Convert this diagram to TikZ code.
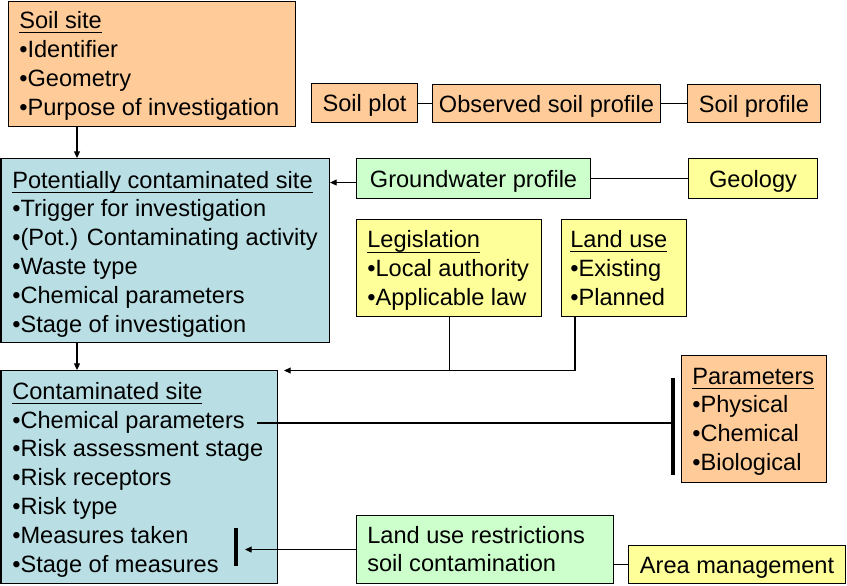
\documentclass[tikz,border=0pt]{standalone}
\usepackage{fontspec}
\setmainfont{Liberation Sans}
\usetikzlibrary{arrows.meta,calc}
\definecolor{peach}{HTML}{FFCC99}
\definecolor{lblue}{HTML}{B9DFE4}
\definecolor{lgreen}{HTML}{CCFFCC}
\definecolor{lyellow}{HTML}{FFFF99}
\newsavebox\ulbox
\newcommand\myul[1]{\sbox\ulbox{#1}\rlap{\rule[-3.6pt]{\wd\ulbox}{0.8pt}}\usebox\ulbox}
\tikzset{
  fnt/.style={font=\fontsize{17.7pt}{21.6pt}\selectfont},
  box/.style={draw=black, line width=0.8pt, anchor=north west, inner sep=0pt, fnt},
  sbox/.style={box, align=center, text height=16.3pt, text depth=3.5pt},
  txt/.style={anchor=west, align=left, inner sep=0pt, fnt},
  conn/.style={draw=black, line width=0.8pt},
  arr/.style={conn, -{Triangle[length=5pt,width=4.5pt]}},
  bar/.style={draw=black, line width=2.4pt}
}
\begin{document}
\begin{tikzpicture}[x=0.75pt,y=-0.75pt]
\useasboundingbox (0,0) rectangle (847,586);
% boxes
\node[box, fill=peach, minimum width=215.25pt, minimum height=94.125pt] (ss) at (8,0.5) {};
\node[txt] (sst) at ($(ss.west)+(11,2)$)
  {\myul{Soil site}\\•Identifier\\•Geometry\\•Purpose of investigation};
\node[sbox, fill=peach, minimum width=79.5pt, minimum height=29.25pt] (sp) at (311,83) {Soil plot};
\node[sbox, fill=peach, minimum width=171pt, minimum height=28.5pt] (osp) at (432,84) {Observed soil profile};
\node[sbox, fill=peach, minimum width=99.75pt, minimum height=28.5pt] (spr) at (687,84) {Soil profile};
\node[box, fill=lblue, minimum width=246.375pt, minimum height=138pt] (pcs) at (0.5,158) {};
\node[txt] (pcst) at ($(pcs.west)+(11.5,3.5)$)
  {\myul{Potentially contaminated site}\\•Trigger for investigation\\•(Pot.) Contaminating activity\\•Waste type\\•Chemical parameters\\•Stage of investigation};
\node[sbox, fill=lgreen, minimum width=175.5pt, minimum height=30pt] (gw) at (356,158) {Groundwater profile};
\node[sbox, fill=lyellow, minimum width=96.75pt, minimum height=30pt] (geo) at (688,158) {Geology};
\node[box, fill=lyellow, minimum width=138.75pt, minimum height=72.75pt] (leg) at (356,219) {};
\node[txt] (legt) at ($(leg.west)+(11,2.5)$)
  {\myul{Legislation}\\•Local authority\\•Applicable law};
\node[box, fill=lyellow, minimum width=93.75pt, minimum height=72.75pt] (lu) at (561,219) {};
\node[txt] (lut) at ($(lu.west)+(9,0)$)
  {\myul{Land use}\\•Existing\\•Planned};
\node[box, fill=lblue, minimum width=207.375pt, minimum height=159.75pt] (cs) at (0.5,370) {};
\node[txt] (cst) at ($(cs.west)+(11.5,2.5)$)
  {\myul{Contaminated site}\\•Chemical parameters\\•Risk assessment stage\\•Risk receptors\\•Risk type\\•Measures taken\\•Stage of measures};
\node[box, fill=peach, minimum width=108.75pt, minimum height=95.25pt] (par) at (681,355) {};
\node[txt] (part) at ($(par.west)+(11,2.5)$)
  {\myul{Parameters}\\•Physical\\•Chemical\\•Biological};
\node[box, fill=lgreen, minimum width=192.75pt, minimum height=51pt] (lur) at (356,515) {};
\node[txt] (lurt) at ($(lur.west)+(11,-0.5)$)
  {Land use restrictions\\soil contamination};
\node[sbox, fill=lyellow, minimum width=162.75pt, minimum height=28.5pt] (am) at (628,545) {Area management};
% connectors top row
\draw[conn] ($(sp.west)+(0,-4.5)$) -- ($(sp.west)+(0,-4.5)$ -| ss.east);
\draw[conn] (sp.east) -- (sp.east -| osp.west);
\draw[conn] (osp.east) -- (osp.east -| spr.west);
% soil site -> pcs
\coordinate (a1) at ($(ss.south west)+(69,0)$);
\draw[arr] (a1) -- (a1 |- pcs.north);
% groundwater -> pcs
\coordinate (g1) at ($(gw.west)+(0,4)$);
\draw[arr] (g1) -- (g1 -| pcs.east);
\draw[conn] (gw.east) -- (gw.east -| geo.west);
% pcs -> cs
\coordinate (a2) at ($(pcs.south west)+(76.5,0)$);
\draw[arr] (a2) -- (a2 |- cs.north);
% legislation / land use -> cs
\coordinate (l1) at ($(lu.south west)+(14,0)$);
\coordinate (c1) at ($(cs.north east)+(6,0.5)$);
\draw[arr] (l1) |- (c1);
\draw[conn] (leg.south) -- (leg.south |- c1);
% chemical parameters -> parameters bar
\coordinate (bt) at (673,378);
\coordinate (bb) at (673,475);
\draw[bar] (bt) -- (bb);
\coordinate (cp) at (257,423);
\draw[conn] (cp) -- (cp -| bt);
% land use restrictions -> stage of measures bar
\coordinate (st) at (236,528);
\coordinate (sb) at (236,566);
\draw[bar] (st) -- (sb);
\coordinate (tip) at (245,549);
\draw[arr] (lur.west) -- (lur.west -| tip);
\draw[conn] (am.west) -- (am.west -| lur.east);
\end{tikzpicture}
\end{document}
